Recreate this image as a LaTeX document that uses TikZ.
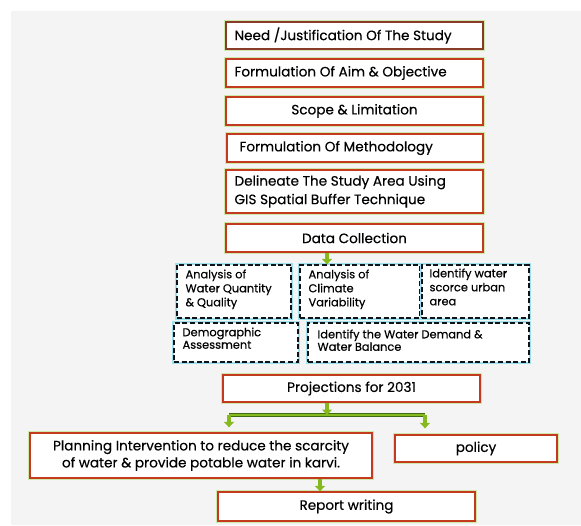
\documentclass[tikz,border=0pt]{standalone}
\usepackage{fontspec}
\setmainfont{Poppins}[FakeBold=0.35]
\usetikzlibrary{arrows.meta,calc}
\definecolor{bgg}{HTML}{F4F4F4}
\definecolor{boxred}{HTML}{C43A1E}
\definecolor{boxbrown}{HTML}{8A3A28}
\definecolor{glowg}{HTML}{CDE8A8}
\definecolor{glowc}{HTML}{9EE0EC}
\definecolor{arrg}{HTML}{86B91E}
\definecolor{darkg}{HTML}{3E6A12}
\definecolor{dashk}{HTML}{101418}
\tikzset{
  redbox/.style={draw=boxred, line width=1.3pt, fill=white!97!bgg,
     preaction={draw=glowg, line width=3.2pt},
     inner sep=0pt, font=\fontsize{13.6}{17}\selectfont, text=black},
  bt/.style={font=\fontsize{13.6}{17}\selectfont, inner sep=0pt, anchor=west},
  dbox/.style={draw=dashk, dashed, dash pattern=on 5pt off 2.6pt, line width=1.3pt,
     fill=white!96!bgg, preaction={draw=glowc, line width=3.8pt, solid},
     inner sep=0pt},
  dt/.style={font=\fontsize{11.4}{14}\selectfont, align=left, inner sep=0pt, anchor=north west},
  garrow/.style={draw=arrg, line width=3.6pt,
     -{Triangle[width=10pt,length=5.5pt]}},
  gbar/.style={draw=darkg, line width=4pt},
  gbarin/.style={draw=arrg, line width=2pt},
}
\begin{document}
\begin{tikzpicture}[x=1pt,y=-1pt]
\useasboundingbox (0,0) rectangle (581,525);
\fill[white] (0,0) rectangle (581,525);
\fill[bgg] (11,11) rectangle (581,525);

% top boxes
\node[redbox, draw=boxbrown, minimum width=257pt, minimum height=27pt] (need) at (354.5,35.5) {};
\node[bt] (needt) at (need.west) [xshift=9pt] {Need /Justification Of The Study};
\node[redbox, minimum width=257pt, minimum height=28pt] (aim) at (354.5,73) {};
\node[bt] (aimt) at (aim.west) [xshift=9pt] {Formulation Of Aim \& Objective};
\node[redbox, minimum width=257pt, minimum height=28pt] (scope) at (354.5,111) {Scope \& Limitation};
\node[redbox, minimum width=256pt, minimum height=28pt] (meth) at (355,148) {};
\node[bt] (metht) at (meth.west) [xshift=13pt] {Formulation Of Methodology};
\node[redbox, minimum width=257pt, minimum height=43pt] (delin) at (354.5,191.5) {};
\node[bt, align=left, font=\fontsize{13.6}{18.5}\selectfont] (delint) at (delin.west) [xshift=9pt] {Delineate The Study Area Using\\GIS Spatial Buffer Technique};
\node[redbox, minimum width=257pt, minimum height=28pt] (data) at (354.5,238) {Data Collection};

% dashed boxes
\node[dbox, minimum width=114pt, minimum height=53pt] (qa) at (234,291.5) {};
\node[dt] (qat) at (qa.north west) [xshift=9pt, yshift=-5pt] {Analysis of\\Water Quantity\\\& Quality};
\node[dbox, minimum width=120pt, minimum height=53pt] (cl) at (360,291.5) {};
\node[dt] (clt) at (cl.north west) [xshift=9pt, yshift=-5pt] {Analysis of\\Climate\\Variability};
\node[dbox, minimum width=107pt, minimum height=53pt] (ws) at (475.5,291.5) {};
\node[dt] (wst) at (ws.north west) [xshift=8pt, yshift=-4pt] {Identify water\\scorce urban\\area};
\node[dbox, minimum width=124pt, minimum height=39pt] (demo) at (236,342.5) {};
\node[dt, font=\fontsize{11.4}{12.5}\selectfont] (demot) at (demo.north west) [xshift=9pt, yshift=-5pt] {Demographic\\Assessment};
\node[dbox, minimum width=221pt, minimum height=39pt] (wd) at (418.5,342.5) {};
\node[dt, font=\fontsize{11.4}{12.5}\selectfont] (wdt) at (wd.north west) [xshift=10pt, yshift=-7pt] {Identify the Water Demand \&\\Water Balance};

% bottom boxes
\node[redbox, minimum width=257pt, minimum height=27pt] (proj) at (351.5,388.5) {Projections for 2031};
\node[redbox, minimum width=342pt, minimum height=45pt, align=center, font=\fontsize{13.6}{17}\selectfont] (plan) at (201,455.5) {Planning Intervention to reduce the scarcity\\of water \& provide potable water in karvi.};
\node[redbox, minimum width=162pt, minimum height=27pt] (pol) at (476,448.5) {policy};
\node[redbox, minimum width=257pt, minimum height=29pt] (rep) at (346.5,506.5) {Report writing};

% connectors
\coordinate (j) at (327,415);
\coordinate (jl) at (229,415);
\coordinate (jr) at (425,415);
\draw[garrow] (data.south -| 327,0) -- (cl.north -| 327,0);
\draw[gbar] (jl) -- (jr);
\draw[gbarin] (jl) -- (jr);
\draw[garrow] (proj.south -| j) -- (j);
\draw[garrow, shorten >=5pt] (jl) -- (plan.north -| jl);
\draw[garrow, shorten >=6pt] (jr) -- (pol.north -| jr);
\draw[garrow] (plan.south -| 320,0) -- (rep.north -| 320,0);
\end{tikzpicture}
\end{document}
